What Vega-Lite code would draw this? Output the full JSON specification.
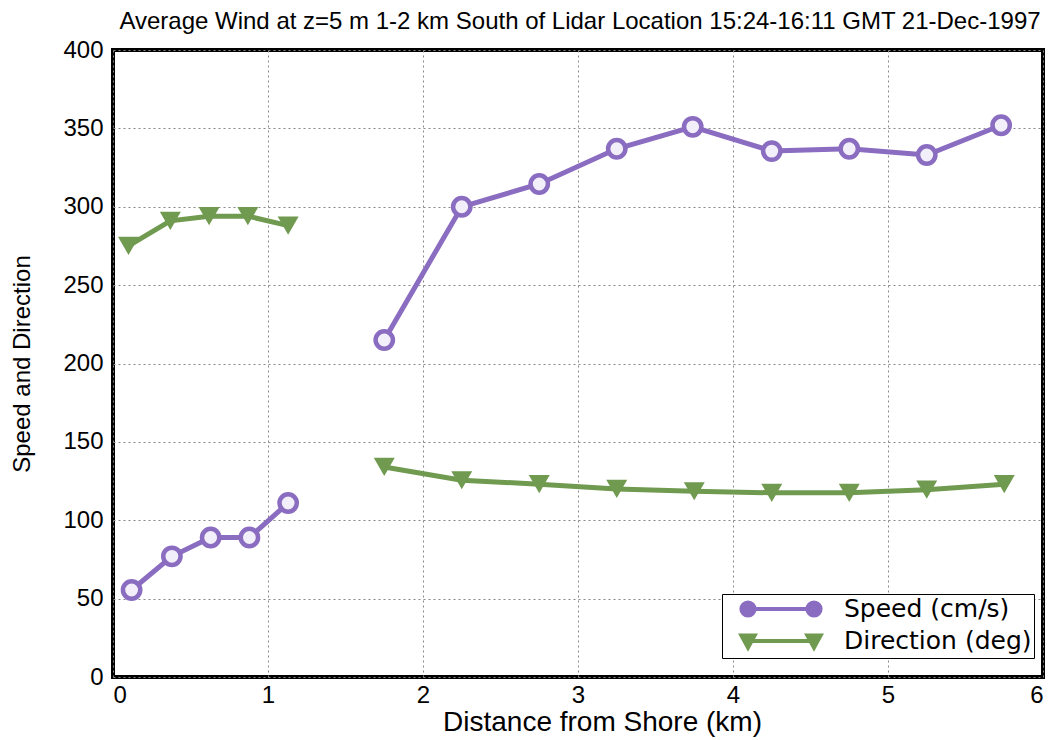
{
  "$schema": "https://vega.github.io/schema/vega-lite/v6.json",
  "width": 930,
  "height": 627,
  "autosize": "none",
  "padding": {"left": 113, "top": 50, "right": 12, "bottom": 63},
  "background": "white",
  "title": {
    "text": "Average Wind at z=5 m 1-2 km South of Lidar Location 15:24-16:11 GMT 21-Dec-1997",
    "font": "Liberation Sans",
    "fontSize": 24,
    "fontWeight": "normal",
    "anchor": "middle",
    "offset": 4,
    "dx": 2,
    "color": "black"
  },
  "config": {
    "view": {"stroke": "black", "strokeWidth": 4},
    "axis": {
      "labelFont": "Liberation Sans",
      "titleFont": "Liberation Sans",
      "labelFontSize": 24,
      "titleFontSize": 24,
      "titleFontWeight": "normal",
      "labelColor": "black",
      "titleColor": "black",
      "grid": true,
      "gridColor": "#888888",
      "gridDash": [2, 3],
      "gridWidth": 1,
      "domain": false,
      "ticks": false
    }
  },
  "data": {
    "values": [
      {"x": 0.12, "v": 55.5, "series": "Speed (cm/s)", "seg": "s1"},
      {"x": 0.38, "v": 77, "series": "Speed (cm/s)", "seg": "s1"},
      {"x": 0.63, "v": 89, "series": "Speed (cm/s)", "seg": "s1"},
      {"x": 0.88, "v": 89, "series": "Speed (cm/s)", "seg": "s1"},
      {"x": 1.13, "v": 111, "series": "Speed (cm/s)", "seg": "s1"},
      {"x": 1.75, "v": 215, "series": "Speed (cm/s)", "seg": "s2"},
      {"x": 2.25, "v": 300, "series": "Speed (cm/s)", "seg": "s2"},
      {"x": 2.75, "v": 314.5, "series": "Speed (cm/s)", "seg": "s2"},
      {"x": 3.25, "v": 337, "series": "Speed (cm/s)", "seg": "s2"},
      {"x": 3.74, "v": 351, "series": "Speed (cm/s)", "seg": "s2"},
      {"x": 4.25, "v": 335.5, "series": "Speed (cm/s)", "seg": "s2"},
      {"x": 4.75, "v": 337, "series": "Speed (cm/s)", "seg": "s2"},
      {"x": 5.25, "v": 333, "series": "Speed (cm/s)", "seg": "s2"},
      {"x": 5.73, "v": 352, "series": "Speed (cm/s)", "seg": "s2"},
      {"x": 0.1, "v": 275, "series": "Direction (deg)", "seg": "d1"},
      {"x": 0.37, "v": 291, "series": "Direction (deg)", "seg": "d1"},
      {"x": 0.62, "v": 294, "series": "Direction (deg)", "seg": "d1"},
      {"x": 0.87, "v": 294, "series": "Direction (deg)", "seg": "d1"},
      {"x": 1.13, "v": 288, "series": "Direction (deg)", "seg": "d1"},
      {"x": 1.75, "v": 134, "series": "Direction (deg)", "seg": "d2"},
      {"x": 2.25, "v": 125.5, "series": "Direction (deg)", "seg": "d2"},
      {"x": 2.75, "v": 123, "series": "Direction (deg)", "seg": "d2"},
      {"x": 3.25, "v": 120, "series": "Direction (deg)", "seg": "d2"},
      {"x": 3.75, "v": 118.5, "series": "Direction (deg)", "seg": "d2"},
      {"x": 4.25, "v": 117.5, "series": "Direction (deg)", "seg": "d2"},
      {"x": 4.75, "v": 117.5, "series": "Direction (deg)", "seg": "d2"},
      {"x": 5.25, "v": 119.5, "series": "Direction (deg)", "seg": "d2"},
      {"x": 5.75, "v": 123, "series": "Direction (deg)", "seg": "d2"}
    ]
  },
  "encoding": {
    "x": {
      "field": "x", "type": "quantitative",
      "scale": {"domain": [0, 6], "nice": false},
      "axis": {"values": [0, 1, 2, 3, 4, 5, 6], "title": "Distance from Shore (km)", "labelPadding": 6, "titlePadding": 1, "titleFontSize": 28, "titleX": 489, "titleAlign": "center"}
    },
    "y": {
      "field": "v", "type": "quantitative",
      "scale": {"domain": [0, 400], "nice": false},
      "axis": {"values": [0, 50, 100, 150, 200, 250, 300, 350, 400], "title": "Speed and Direction", "labelPadding": 10, "titlePadding": 28}
    },
    "color": {
      "field": "series", "type": "nominal",
      "scale": {"domain": ["Speed (cm/s)", "Direction (deg)"], "range": ["#8a6cc0", "#6f9a4f"]},
      "legend": {
        "title": null,
        "orient": "none",
        "legendX": 609,
        "legendY": 544,
        "fillColor": "white",
        "strokeColor": "black",
        "padding": 2,
        "labelFont": "DejaVu Sans",
        "labelFontSize": 25,
        "labelColor": "black",
        "labelOffset": 50,
        "symbolOffset": 44,
        "rowPadding": 3,
        "symbolSize": 484,
        "symbolStrokeWidth": 4,
        "symbolType": "M-2.4,0L2.4,0M-3.6,0a0.6,0.6 0 1,0 1.2,0a0.6,0.6 0 1,0 -1.2,0M2.4,0a0.6,0.6 0 1,0 1.2,0a0.6,0.6 0 1,0 -1.2,0",
        "labelLimit": 400,
        "encode": {
          "symbols": {
            "update": {
              "shape": {"signal": "datum.value === 'Speed (cm/s)' ? 'M-2.4,0L2.4,0M-3.6,0a0.6,0.6 0 1,0 1.2,0a0.6,0.6 0 1,0 -1.2,0M2.4,0a0.6,0.6 0 1,0 1.2,0a0.6,0.6 0 1,0 -1.2,0' : 'M-3,0L3,0M-3.6,-0.5L-2.4,-0.5L-3,0.6ZM2.4,-0.5L3.6,-0.5L3,0.6Z'"},
              "fill": {"signal": "datum.value === 'Speed (cm/s)' ? '#f3effa' : '#6f9a4f'"},
              "fillOpacity": {"value": 1},
              "strokeWidth": {"value": 4}
            }
          }
        }
      }
    }
  },
  "layer": [
    {
      "mark": {"type": "line", "strokeWidth": 5},
      "encoding": {"detail": {"field": "seg"}}
    },
    {
      "transform": [{"filter": "datum.series === 'Speed (cm/s)'"}],
      "mark": {"type": "point", "shape": "circle", "filled": false, "fill": "#f3effa", "fillOpacity": 1, "strokeWidth": 4.5, "size": 300, "opacity": 1}
    },
    {
      "transform": [{"filter": "datum.series === 'Direction (deg)'"}],
      "mark": {"type": "point", "shape": "triangle-down", "filled": true, "size": 440, "opacity": 1}
    }
  ]
}
